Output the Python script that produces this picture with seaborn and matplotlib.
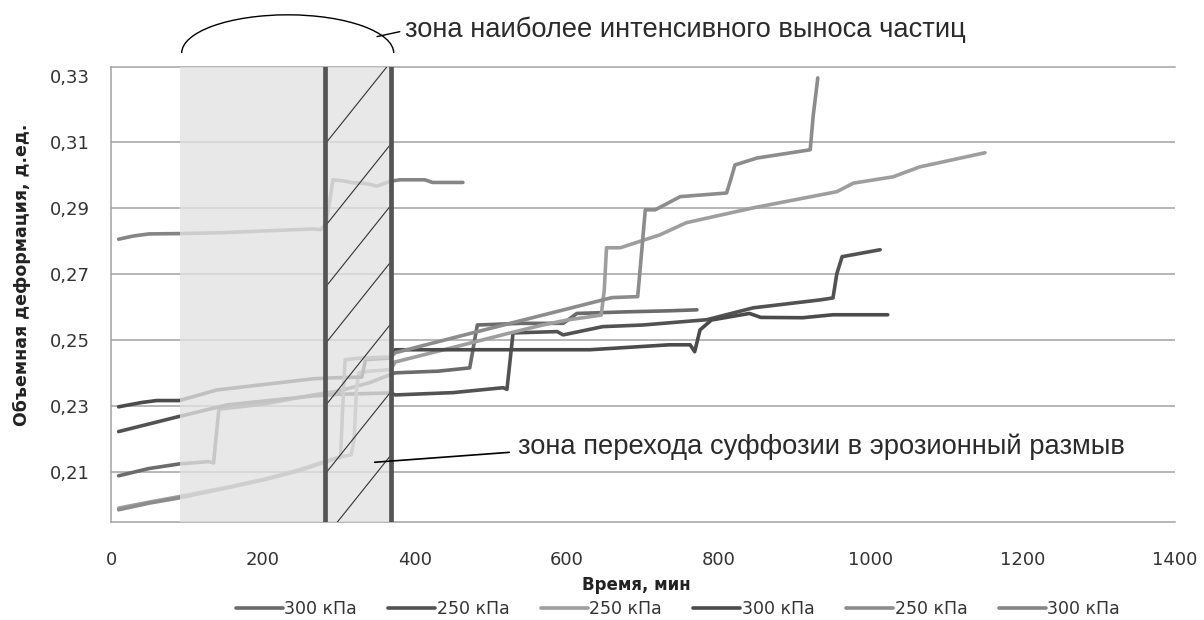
import matplotlib
matplotlib.use("Agg")
import matplotlib.pyplot as plt
from matplotlib.patches import Arc
import seaborn as sns

# Данные: время, мин / объемная деформация, д.ед.
labels = ["300 кПа", "250 кПа", "250 кПа", "300 кПа", "250 кПа", "300 кПа"]
colors = ["#6b6b6b", "#525252", "#9e9e9e", "#4b4b4b", "#8c8c8c", "#858585"]

t1 = [10, 50, 90, 128, 135, 138, 142, 200, 266, 300, 340, 368, 374, 430, 472, 477, 482, 540, 595, 613, 680, 735, 771]
v1 = [0.2088, 0.2110, 0.2124, 0.2131, 0.2127, 0.2200, 0.2290, 0.2305, 0.2333, 0.2345, 0.2370, 0.2395, 0.2400, 0.2405, 0.2415, 0.2480, 0.2545, 0.2550, 0.2550, 0.2580, 0.2585, 0.2588, 0.2591]

t2 = [10, 50, 90, 153, 266, 300, 368, 374, 450, 516, 521, 529, 587, 595, 647, 700, 784, 845, 933, 950, 955, 962, 1012]
v2 = [0.2222, 0.2245, 0.2268, 0.2303, 0.2330, 0.2335, 0.2339, 0.2333, 0.2340, 0.2355, 0.2350, 0.2521, 0.2525, 0.2515, 0.2540, 0.2545, 0.2561, 0.2597, 0.2621, 0.2627, 0.2700, 0.2752, 0.2773]

t3 = [10, 50, 90, 150, 202, 250, 290, 316, 320, 323, 326, 340, 368, 374, 450, 520, 568, 600, 645, 649, 652, 670, 722, 757, 845, 955, 977, 1029, 1064, 1150]
v3 = [0.1990, 0.2008, 0.2025, 0.2052, 0.2078, 0.2108, 0.2138, 0.2152, 0.2200, 0.2350, 0.2400, 0.2405, 0.2410, 0.2433, 0.2477, 0.2518, 0.2545, 0.2560, 0.2575, 0.2650, 0.2779, 0.2779, 0.2818, 0.2855, 0.2900, 0.2949, 0.2975, 0.2994, 0.3024, 0.3067]

t4 = [10, 40, 60, 90, 139, 266, 292, 330, 335, 368, 374, 450, 630, 735, 762, 768, 775, 790, 840, 855, 910, 950, 1022]
v4 = [0.2297, 0.2310, 0.2316, 0.2316, 0.2348, 0.2382, 0.2385, 0.2387, 0.2440, 0.2445, 0.2470, 0.2470, 0.2470, 0.2485, 0.2485, 0.2464, 0.2530, 0.2560, 0.2580, 0.2568, 0.2567, 0.2576, 0.2576]

t5 = [10, 50, 90, 150, 202, 250, 290, 302, 305, 308, 330, 368, 374, 450, 520, 594, 659, 693, 698, 703, 716, 749, 810, 816, 821, 850, 920, 924, 930]
v5 = [0.1985, 0.2005, 0.2021, 0.2050, 0.2076, 0.2105, 0.2136, 0.2145, 0.2300, 0.2440, 0.2445, 0.2448, 0.2461, 0.2506, 0.2547, 0.2590, 0.2628, 0.2631, 0.2760, 0.2894, 0.2894, 0.2934, 0.2945, 0.2990, 0.3030, 0.3051, 0.3076, 0.3180, 0.3294]

t6 = [10, 30, 50, 90, 150, 200, 266, 276, 283, 292, 305, 318, 335, 350, 368, 380, 413, 423, 463]
v6 = [0.2805, 0.2815, 0.2821, 0.2822, 0.2825, 0.2830, 0.2836, 0.2834, 0.2850, 0.2985, 0.2982, 0.2976, 0.2974, 0.2966, 0.2981, 0.2985, 0.2985, 0.2977, 0.2977]

times = [t1, t2, t3, t4, t5, t6]
values = [v1, v2, v3, v4, v5, v6]

# зоны
zone_start = 91          # начало зоны наиболее интенсивного выноса
zone_lines = [281, 368]  # границы зоны перехода суффозии в размыв
hatch_y = [0.3097, 0.2848, 0.2662, 0.2491, 0.2303, 0.2097, 0.1905]

yticks = [0.21, 0.23, 0.25, 0.27, 0.29, 0.31, 0.33]
ytick_labels = ["0,21", "0,23", "0,25", "0,27", "0,29", "0,31", "0,33"]
xticks = [0, 200, 400, 600, 800, 1000, 1200, 1400]

sns.set_style("white")
plt.rcParams['font.family'] = ['DejaVu Sans']

fig = plt.figure(figsize=(12.04, 6.2), dpi=100)
ax = fig.add_axes([0.0922, 0.1581, 0.8837, 0.7339])

for t, v, lab, col in zip(times, values, labels, colors):
    sns.lineplot(x=t, y=v, ax=ax, color=col, lw=2.6, label=lab,
                 sort=False, estimator=None, zorder=2)

handles, labs = ax.get_legend_handles_labels()
ax.get_legend().remove()

# сетка
for y in yticks[:-1]:
    ax.axhline(y, color="#a3a3a3", lw=1.1, zorder=1)

# полупрозрачная заливка зоны (осветляет линии под ней)
ax.axvspan(zone_start, zone_lines[1], color="#e2e2e2", alpha=0.78, lw=0, zorder=3)

for xl in zone_lines:
    ax.axvline(xl, color="#555555", lw=3.4, zorder=5)

# штриховка между вертикальными линиями
for y0 in hatch_y:
    ax.plot([zone_lines[0] + 2, zone_lines[1] - 1], [y0, y0 + 0.0242],
            color="#333333", lw=0.8, zorder=4)

ax.set_xlim(0, 1400)
ax.set_ylim(0.1948, 0.3327)
ax.set_xticks(xticks)
ax.set_yticks(yticks)
ax.set_yticklabels(ytick_labels)
ax.tick_params(length=0, labelsize=13, labelcolor="#333333")
ax.tick_params(axis="x", pad=21)
ax.tick_params(axis="y", pad=15)

for side in ["left", "top", "bottom"]:
    ax.spines[side].set_color("#a3a3a3")
    ax.spines[side].set_linewidth(1.1)
ax.spines["right"].set_visible(False)

ax.set_xlabel("Время, мин", fontsize=12, fontweight="bold", color="#222222")
ax.xaxis.set_label_coords(0.494, -0.118)
ax.set_ylabel("Объемная деформация, д.ед.", fontsize=12.5, fontweight="bold", color="#222222")
ax.yaxis.set_label_coords(-0.075, 0.543)

# дуга и подписи зон
arc = Arc((232.5, 0.3369), width=279, height=0.0232, theta1=0, theta2=180,
          transform=ax.transData, color="black", lw=1, clip_on=False)
ax.add_patch(arc)
ax.plot([350, 380], [0.3419, 0.3434], color="black", lw=1, clip_on=False)
ax.text(387, 0.3440, "зона наиболее интенсивного выноса частиц", fontsize=19.7,
        family="Liberation Sans", color="#2b2b2b", va="center", ha="left")

ax.plot([347, 524], [0.2129, 0.2159], color="black", lw=1.2, zorder=6)
ax.text(535, 0.2176, "зона перехода суффозии в эрозионный размыв", fontsize=19.7,
        family="Liberation Sans", color="#2b2b2b", va="center", ha="left")

fig.legend(handles, labs, loc="center", bbox_to_anchor=(0.563, 0.017), ncol=6,
           frameon=False, fontsize=12.5, handlelength=2.7, handletextpad=0.1,
           columnspacing=1.8, labelcolor="#333333")

fig.savefig("out.png", dpi=100)
